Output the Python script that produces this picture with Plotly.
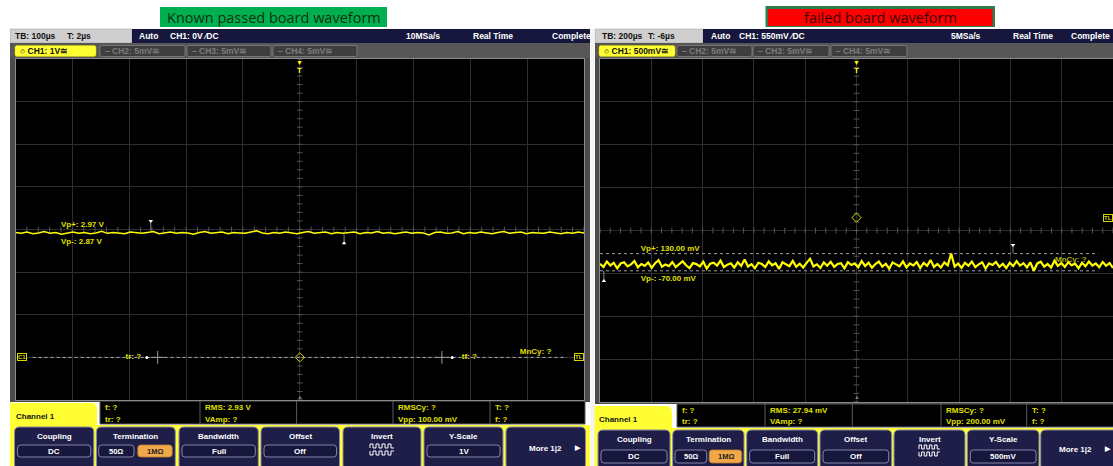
import plotly.graph_objects as go

# ---------------- data ----------------
# passed board: CH1 DC level (V), TB 100 us/div
left_v = [2.93, 2.91, 2.94, 2.90, 2.92, 2.95, 2.91, 2.93, 2.89, 2.92, 2.94, 2.91, 2.93, 2.90, 2.92, 2.96, 2.91, 2.93, 2.92, 2.90,
          2.94, 2.92, 2.91, 2.93, 2.95, 2.90, 2.92, 2.94, 2.91, 2.93, 2.92, 2.89, 2.93, 2.95, 2.91, 2.92, 2.94, 2.90, 2.93, 2.92,
          2.91, 2.94, 2.97, 2.92, 2.90, 2.93, 2.91, 2.94, 2.92, 2.90, 2.93, 2.95, 2.91, 2.92, 2.94, 2.90, 2.93, 2.91, 2.92, 2.94,
          2.90, 2.93, 2.92, 2.95, 2.91, 2.93, 2.90, 2.92, 2.94, 2.91, 2.93, 2.92, 2.87, 2.93, 2.94, 2.91, 2.92, 2.95, 2.90, 2.93,
          2.91, 2.94, 2.92, 2.90, 2.93, 2.95, 2.91, 2.92, 2.94, 2.90, 2.93, 2.92, 2.91, 2.94, 2.92, 2.90, 2.93, 2.91, 2.94, 2.92]
# failed board: CH1 noise (mV), TB 200 us/div
right_mv = [12, -25, 38, -8, 22, -41, 15, 30, -18, 5, 44, -30, 9, -12, 27, -35, 18, 52, -22, 3,
            -15, 33, -28, 10, 41, -5, -38, 20, 8, -19, 36, -45, 14, 25, -9, 48, -26, 2, 17, -33,
            29, -12, 61, -20, 7, -40, 24, 11, -27, 39, -6, 18, -48, 30, 4, -16, 45, -23, 13, -31,
            22, 70, -18, 6, -37, 28, -11, 35, -24, 9, 19, -42, 31, -3, 16, -29, 43, -14, 24, -35,
            8, 37, -21, 12, -46, 26, 5, -17, 40, -30, 15, -8, 33, -39, 21, -13, 55, -25, 10, -32,
            27, -7, 130, -20, 14, -36, 23, -10, 38, -27, 6, 29, -44, 17, -2, 34, -23, 11, -38, 25,
            -15, 42, -9, 19, -31, 28, -70, 16, 36, -22, 9, -33, 47, -12, 20, -26, 31, -5, 13, -41,
            24, -18, 39, -8, 15, -29, 33, -11, 21, -37]

left_span_us = 1000.0    # 10 div x 100 us
right_span_us = 2000.0   # 10 div x 200 us

left_vp = [2.97, 2.87]
right_vp = [130.0, -70.0]
left_trig_level = 0.0
right_trig_level = 550.0

left_header = ["TB: 100µs", "T: 2µs", "Auto", "CH1: 0V ⁄DC", "10MSa/s", "Real Time", "Complete"]
right_header = ["TB: 200µs", "T: -6µs", "Auto", "CH1: 550mV ⁄DC", "5MSa/s", "Real Time", "Complete"]
left_tabs = ["○ CH1: 1V≅", "– CH2: 5mV≅", "– CH3: 5mV≅", "– CH4: 5mV≅"]
right_tabs = ["○ CH1: 500mV≅", "– CH2: 5mV≅", "– CH3: 5mV≅", "– CH4: 5mV≅"]
left_meas = ["f: ?", "tr: ?", "RMS: 2.93 V", "VAmp: ?", "RMSCy: ?", "Vpp: 100.00 mV", "T: ?", "f: ?"]
right_meas = ["f: ?", "tr: ?", "RMS: 27.94 mV", "VAmp: ?", "RMSCy: ?", "Vpp: 200.00 mV", "T: ?", "f: ?"]
left_yscale = "1V"
right_yscale = "500mV"

# ---------------- helpers ----------------
W, H = 1113, 466
FONT = "Liberation Sans, Arial, sans-serif"
shapes, annotations = [], []


def fx(p):
    return p / W


def fy(p):
    return 1 - p / H


def rect(x0, y0, x1, y1, fill, line=None, lw=0):
    shapes.append(dict(type="rect", xref="paper", yref="paper", x0=fx(x0), x1=fx(x1),
                       y0=fy(y1), y1=fy(y0), fillcolor=fill,
                       line=dict(color=line or fill, width=lw), layer="below"))


def rrect(x0, y0, x1, y1, r, fill, line=None, lw=0, tl=True, tr=True, bl=True, br=True):
    rtl, rtr, rbl, rbr = (r if tl else 0), (r if tr else 0), (r if bl else 0), (r if br else 0)
    P = lambda a, b: f"{fx(a):.6f},{fy(b):.6f}"
    path = (f"M{P(x0 + rtl, y0)} L{P(x1 - rtr, y0)} Q{P(x1, y0)} {P(x1, y0 + rtr)} "
            f"L{P(x1, y1 - rbr)} Q{P(x1, y1)} {P(x1 - rbr, y1)} "
            f"L{P(x0 + rbl, y1)} Q{P(x0, y1)} {P(x0, y1 - rbl)} "
            f"L{P(x0, y0 + rtl)} Q{P(x0, y0)} {P(x0 + rtl, y0)} Z")
    shapes.append(dict(type="path", xref="paper", yref="paper", path=path, fillcolor=fill,
                       line=dict(color=line or fill, width=lw), layer="below"))


def txt(px, py, s, size=8.5, color="white", anchor="left", bold=True, family=FONT):
    annotations.append(dict(x=fx(px), y=fy(py), xref="paper", yref="paper",
                            text=f"<b>{s}</b>" if bold else s, showarrow=False,
                            xanchor=anchor, yanchor="middle",
                            font=dict(size=size, color=color, family=family)))


def sqwave(x0, yhi, ylo, w, n, inverted=False):
    a, b = (yhi, ylo) if inverted else (ylo, yhi)
    P = lambda u, v: f"{fx(u):.6f},{fy(v):.6f}"
    x = x0
    path = f"M{P(x, a)}"
    for _ in range(n):
        path += f" L{P(x, b)} L{P(x + w, b)} L{P(x + w, a)} L{P(x + 2 * w, a)}"
        x += 2 * w
    shapes.append(dict(type="path", xref="paper", yref="paper", path=path,
                       fillcolor="rgba(0,0,0,0)", line=dict(color="white", width=1), layer="below"))


YEL = "#ffff33"
TXTY = "#e0e000"
NAVY = "#17173d"
BTN = "#1e1e48"
BTNL = "#8a8aa8"

# ---------------- title boxes ----------------
rect(160, 7, 387, 27, "#00b050")
txt(273.5, 17.5, "Known passed board waveform", size=14.5, color="#103010", anchor="center",
    bold=False, family="Open Sans, Noto Sans, sans-serif")
rect(765.5, 6, 995, 27, "#2e7d4f")
rect(768, 9, 992.5, 26, "#ff0000")
txt(880, 17.5, "failed board waveform", size=14.5, color="#3a0000", anchor="center",
    bold=False, family="Open Sans, Noto Sans, sans-serif")


def scope(X0, X1, px0, px1, py0, py1, hdr_split, header, header_x, tabs, tab_x,
          meas, table, meas_rows, seps, tab_ch, band_y, buttons, lab_y, vbox, term_boxes,
          yscale, icon, more):
    # body
    rect(X0, 43, X1, py1 + 2, "#4b4b4b")
    # header
    rect(X0, 29, hdr_split, 43, "#cfcfcf", "#9a9a9a", 0.5)
    rect(hdr_split, 29, X1, 43, NAVY)
    for i, (s, x) in enumerate(zip(header, header_x)):
        txt(x, 36, s, size=8.5, color="#111111" if i < 2 else "white")
    # tabs row
    rect(X0, 43, X1, 58, "#575757")
    for i, (s, (a, b)) in enumerate(zip(tabs, tab_x)):
        if i == 0:
            rrect(a, 45.5, b, 56.5, 2, YEL, "#d0d000", 0.5)
            txt(a + 3, 51, s, size=8.5, color="#111111")
        else:
            rrect(a, 45.5, b, 56.5, 2, "#3e3e3e", "#8a8a8a", 0.7)
            txt(a + 3, 51, s, size=8.5, color="#7c7c7c")
    # plot area
    rect(px0, py0, px1, py1, "#000000")
    # bottom yellow band + channel tab
    rect(X0, band_y, X1, 466, YEL)
    rrect(tab_ch[0], tab_ch[1], tab_ch[2], 466, 6, YEL, tl=False, bl=False, br=False)
    txt(tab_ch[0] + 4, tab_ch[1] + 13, "Channel 1", size=8, color="#111111")
    # table
    rect(table[0], table[1], table[2], table[3], "#000000", "#5a5a5a", 1)
    for s in seps:
        shapes.append(dict(type="line", xref="paper", yref="paper", x0=fx(s), x1=fx(s),
                           y0=fy(table[3]), y1=fy(table[1]), line=dict(color="#5a5a5a", width=1)))
    cols = [table[0] + 3] + [s + 3 for s in seps[0:1]] + [s + 3 for s in seps[2:4]]
    for k, s in enumerate(meas):
        txt(cols[k // 2], meas_rows[k % 2], s, size=8, color=TXTY)
    # buttons
    for (a, b, lab, val) in buttons:
        rrect(a, lab_y - 9, b, 470, 5, BTN, BTNL, 1)
        if lab.startswith("More"):
            txt(more[0], more[2], lab, size=8, anchor="center")
            txt(more[1], more[2], "▶", size=7, anchor="center")
            continue
        txt((a + b) / 2, lab_y, lab, size=8, anchor="center")
        if lab == "Termination":
            (t0, t1), (u0, u1) = term_boxes
            rrect(t0, vbox[0], t1, vbox[1], 3, NAVY, "#a0a0c0", 0.8)
            txt((t0 + t1) / 2, (vbox[0] + vbox[1]) / 2, "50Ω", size=7.5, anchor="center")
            rrect(u0, vbox[0], u1, vbox[1], 3, "#f0a848", "#c08030", 0.8)
            txt((u0 + u1) / 2, (vbox[0] + vbox[1]) / 2, "1MΩ", size=7.5, color="#222222", anchor="center")
        elif lab == "Invert":
            sqwave(icon[0], icon[1], icon[1] + 4, icon[2], 4)
            sqwave(icon[0], icon[1] + 7, icon[1] + 11, icon[2], 4, inverted=True)
        else:
            rrect(a + 3, vbox[0], b - 3, vbox[1], 3, NAVY, "#a0a0c0", 0.8)
            txt((a + b) / 2, (vbox[0] + vbox[1]) / 2, val, size=8, anchor="center")


# left scope
scope(10, 590, 15.5, 584, 59, 400, 132, left_header, [13, 65, 137, 168, 404, 471, 550],
      left_tabs, [(15, 96), (100, 185), (187, 271), (273, 357)],
      left_meas, (100, 401, 585, 424), (407, 419), [200, 296.6, 393, 490],
      (10, 403, 97), 425,
      [(14.5, 93.8, "Coupling", "DC"), (96.4, 175.3, "Termination", ""), (179, 258.3, "Bandwidth", "Full"),
       (261, 339.5, "Offset", "Off"), (343, 421, "Invert", ""), (424, 503, "Y-Scale", left_yscale),
       (506, 585.5, "More 1|2", "")],
      436, (445, 457), ((98.7, 134), (137.8, 172.2)), left_yscale, (370, 444, 3), (545, 578, 448))

# right scope
scope(595, 1125, 600, 1113, 59, 402, 703, right_header, [600, 646, 709, 737, 949, 1011, 1069],
      right_tabs, [(599, 675), (677, 752), (753, 829), (831, 907)],
      right_meas, (677, 404, 1125, 427), (410, 421), [765, 852.3, 941, 1026.7],
      (593, 406, 672), 428,
      [(598, 670, "Coupling", "DC"), (672.7, 744, "Termination", ""), (746.7, 817.7, "Bandwidth", "Full"),
       (820, 891.7, "Offset", "Off"), (894, 965, "Invert", ""), (967.3, 1039, "Y-Scale", right_yscale),
       (1040.7, 1120, "More 1|2", "")],
      439, (450, 463), ((675, 706.7), (709.3, 741.7)), right_yscale, (919, 445, 2.6), (1075, 1107, 449))

# white gap between the two screenshots
rect(590.5, 29, 594.5, 466, "#f4f4f4")
rect(0, 29, 10, 466, "#ffffff")

# ---------------- traces ----------------
fig = go.Figure()

n_l = len(left_v)
t_left = [-left_span_us / 2 + i * left_span_us / (n_l - 1) for i in range(n_l)]
n_r = len(right_mv)
t_right = [-right_span_us / 2 + i * right_span_us / (n_r - 1) for i in range(n_r)]


def add(**kw):
    kw.setdefault("hoverinfo", "skip")
    kw.setdefault("showlegend", False)
    fig.add_trace(go.Scatter(**kw))


# centre crosshair minor ticks
add(x=[0] * 41, y=[-1 + 0.2 * k for k in range(41)], mode="markers",
    marker=dict(symbol="line-ew", size=4, line=dict(color="#555555", width=1)), xaxis="x", yaxis="y")
add(x=[-500 + 20 * k for k in range(51)], y=[3] * 51, mode="markers",
    marker=dict(symbol="line-ns", size=4, line=dict(color="#555555", width=1)), xaxis="x", yaxis="y")
add(x=[0] * 41, y=[-1600 + 100 * k for k in range(41)], mode="markers",
    marker=dict(symbol="line-ew", size=4, line=dict(color="#555555", width=1)), xaxis="x2", yaxis="y2")
add(x=[-1000 + 40 * k for k in range(51)], y=[400] * 51, mode="markers",
    marker=dict(symbol="line-ns", size=4, line=dict(color="#555555", width=1)), xaxis="x2", yaxis="y2")

# left: ground / trigger reference dotted line
add(x=[-470, 470], y=[left_trig_level] * 2, mode="lines",
    line=dict(color="#b0b0b0", width=1, dash="dot"), xaxis="x", yaxis="y")
# left: tr / tf cursors
for xc in (-250, 250):
    add(x=[xc, xc], y=[-0.15, 0.15], mode="lines", line=dict(color="#9a9a9a", width=1), xaxis="x", yaxis="y")
    add(x=[xc - 12, xc + 12], y=[0, 0], mode="lines", line=dict(color="#9a9a9a", width=1), xaxis="x", yaxis="y")
add(x=[-269, 268], y=[0, 0], mode="markers", marker=dict(color="white", size=3), xaxis="x", yaxis="y")

# left texts
add(x=[-420, -420, 387], y=[3.1, 2.71, 0.13],
    text=[f"<b>Vp+: {left_vp[0]:.2f} V</b>", f"<b>Vp-: {left_vp[1]:.2f} V</b>", "<b>MnCy: ?</b>"],
    mode="text", textposition="middle right", textfont=dict(color=TXTY, size=8, family=FONT),
    xaxis="x", yaxis="y")
add(x=[-279, 285], y=[0, 0], text=["<b>tr: ?</b>", "<b>tf: ?</b>"], mode="text",
    textposition=["middle left", "middle right"], textfont=dict(color=TXTY, size=8, family=FONT),
    xaxis="x", yaxis="y")

# left waveform
add(x=t_left, y=left_v, mode="lines", line=dict(color="#ffff00", width=1.5), xaxis="x", yaxis="y")
# left peak markers
add(x=[-262, -262], y=[3.2, 2.97], mode="lines", line=dict(color="#888", width=1), xaxis="x", yaxis="y")
add(x=[78, 78], y=[2.68, 2.88], mode="lines", line=dict(color="#888", width=1), xaxis="x", yaxis="y")
add(x=[-262, 78], y=[3.2, 2.68], mode="markers",
    marker=dict(symbol=["triangle-down", "triangle-up"], color="white", size=4), xaxis="x", yaxis="y")
# left trigger point
add(x=[0], y=[left_trig_level], mode="markers",
    marker=dict(symbol="diamond-open", color="#d8d800", size=7, line=dict(width=1)), xaxis="x", yaxis="y")

# right: MnCy text (behind waveform)
add(x=[774], y=[56], text=["<b>MnCy: ?</b>"], mode="text", textposition="middle right",
    textfont=dict(color="#b0b000", size=8, family=FONT), xaxis="x2", yaxis="y2")
# right Vp+ / Vp- dotted lines
for v in right_vp:
    add(x=[-1000, 943], y=[v, v], mode="lines", line=dict(color="#a0a0a0", width=1, dash="dot"),
        xaxis="x2", yaxis="y2")
# right waveform
add(x=t_right, y=right_mv, mode="lines", line=dict(color="#ffff00", width=2.2), xaxis="x2", yaxis="y2")
# right texts
add(x=[-841, -841], y=[184, -166],
    text=[f"<b>Vp+: {right_vp[0]:.2f} mV</b>", f"<b>Vp-: {right_vp[1]:.2f} mV</b>"],
    mode="text", textposition="middle right", textfont=dict(color=TXTY, size=8, family=FONT),
    xaxis="x2", yaxis="y2")
add(x=[610, 610], y=[231, 130], mode="lines", line=dict(color="#888", width=1), xaxis="x2", yaxis="y2")
add(x=[-985, -985], y=[-189, -70], mode="lines", line=dict(color="#888", width=1), xaxis="x2", yaxis="y2")
add(x=[610, -985], y=[231, -189], mode="markers",
    marker=dict(symbol=["triangle-down", "triangle-up"], color="white", size=4), xaxis="x2", yaxis="y2")
add(x=[0], y=[right_trig_level], mode="markers",
    marker=dict(symbol="diamond-open", color="#d8d800", size=7, line=dict(width=1)), xaxis="x2", yaxis="y2")

# trigger "T" markers and edge markers
for cx in (299.75, 856.5):
    txt(cx, 62.5, "▼", size=7, color="#ffff00", anchor="center")
    txt(cx, 70, "T", size=8, color="#ffff00", anchor="center")
    txt(cx, 397, "▲", size=6, color="#777777", anchor="center")
for (xp, yp, s, anc) in ((16.5, 357.25, "C1", "left"), (584, 357.25, "TL", "right"), (1113, 217.6, "TL", "right")):
    annotations.append(dict(x=fx(xp), y=fy(yp), xref="paper", yref="paper", text=f"<b>{s}</b>",
                            showarrow=False, xanchor=anc, yanchor="middle",
                            font=dict(size=6, color="#d8d800", family=FONT),
                            bordercolor="#d8d800", borderwidth=1, borderpad=0, bgcolor="#000000"))

grid = dict(showgrid=True, gridcolor="#2e2e2e", gridwidth=1, zeroline=False, showticklabels=False,
            ticks="", showline=True, linecolor="#8a8a8a", linewidth=1, mirror=True, fixedrange=True)

fig.update_layout(
    width=W, height=H, margin=dict(l=0, r=0, t=0, b=0),
    paper_bgcolor="white", plot_bgcolor="rgba(0,0,0,0)",
    xaxis=dict(domain=[fx(15.5), fx(584)], range=[-left_span_us / 2, left_span_us / 2], dtick=100, tick0=0,
               anchor="y", **grid),
    yaxis=dict(domain=[fy(400), fy(59)], range=[-1, 7], dtick=1, tick0=0, anchor="x", **grid),
    xaxis2=dict(domain=[fx(600), 1.0], range=[-right_span_us / 2, right_span_us / 2], dtick=200, tick0=0,
                anchor="y2", **grid),
    yaxis2=dict(domain=[fy(402), fy(59)], range=[-1600, 2400], dtick=500, tick0=400, anchor="x2", **grid),
    shapes=shapes, annotations=annotations, showlegend=False,
)

fig.write_html("out.html", config={"displayModeBar": False},
               post_script="document.body.style.margin='0';document.body.style.overflow='hidden';")
